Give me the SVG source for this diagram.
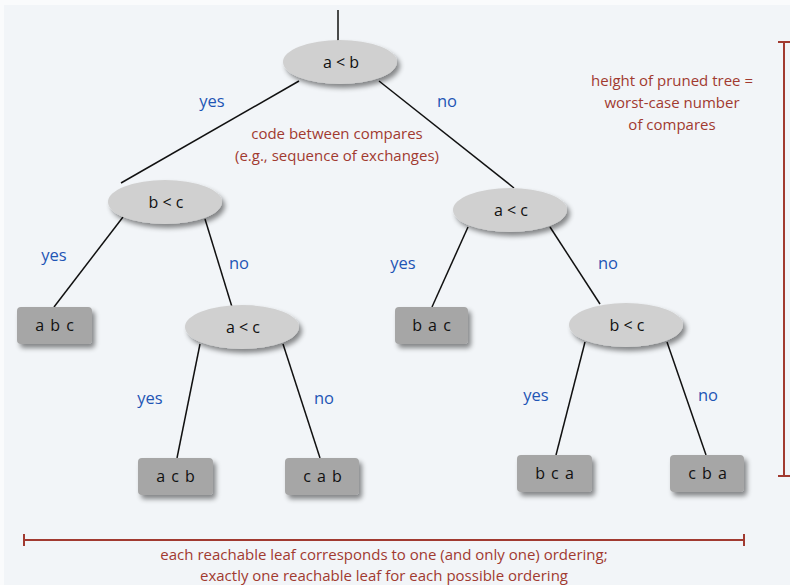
<svg xmlns="http://www.w3.org/2000/svg" width="790" height="585" viewBox="0 0 790 585">
<defs>
<filter id="sh" x="-20%" y="-30%" width="150%" height="180%">
<feDropShadow dx="3" dy="4" stdDeviation="2.5" flood-color="#000" flood-opacity="0.45"/>
</filter>
</defs>
<style>
.bg{fill:#f2f5f8}
.cmp{fill:#d0d0d0;filter:url(#sh)}
.leaf{fill:#a6a6a6;filter:url(#sh)}
.nt{font-family:"Open Sans","DejaVu Sans",sans-serif;font-size:16px;fill:#111;text-anchor:middle}
.lt{font-family:"Open Sans","DejaVu Sans",sans-serif;font-size:16px;fill:#111;text-anchor:middle;letter-spacing:1px}
.edge{stroke:#111;stroke-width:1.5;fill:none}
.yn{font-family:"Open Sans","DejaVu Sans",sans-serif;font-size:16.5px;fill:#1f55b5;text-anchor:middle}
.note{font-family:"Open Sans","DejaVu Sans",sans-serif;font-size:15px;fill:#a13a30;text-anchor:middle}
.br{stroke:#a13a30;stroke-width:2;fill:none}
</style>
<rect x="0" y="0" width="790" height="585" fill="#fafbfc"/>
<rect class="bg" x="4" y="5" width="786" height="580"/>
<g id="connectors">
<line class="edge" x1="338" y1="10" x2="338" y2="41"/>
<line class="edge" x1="299" y1="81" x2="121" y2="183"/>
<line class="edge" x1="379" y1="81" x2="514" y2="188"/>
<line class="edge" x1="123" y1="217" x2="54" y2="307"/>
<line class="edge" x1="205" y1="219" x2="232" y2="307"/>
<line class="edge" x1="200" y1="344" x2="177" y2="458"/>
<line class="edge" x1="283" y1="344" x2="320" y2="458"/>
<line class="edge" x1="468" y1="227" x2="432" y2="307"/>
<line class="edge" x1="550" y1="227" x2="600" y2="304"/>
<line class="edge" x1="585" y1="342" x2="556" y2="455"/>
<line class="edge" x1="667" y1="342" x2="706" y2="455"/>
</g>
<g id="n_ab"><ellipse class="cmp" cx="340" cy="62" rx="57" ry="22"/><text class="nt" x="341" y="68">a &lt; b</text></g>
<g id="n_bc1"><ellipse class="cmp" cx="165" cy="202" rx="57" ry="22"/><text class="nt" x="166" y="208">b &lt; c</text></g>
<g id="n_ac2"><ellipse class="cmp" cx="510" cy="210" rx="57" ry="22"/><text class="nt" x="511" y="216">a &lt; c</text></g>
<g id="n_ac1"><ellipse class="cmp" cx="242" cy="327" rx="57" ry="22"/><text class="nt" x="243" y="333">a &lt; c</text></g>
<g id="n_bc2"><ellipse class="cmp" cx="626" cy="325" rx="57" ry="22"/><text class="nt" x="627" y="331">b &lt; c</text></g>
<g id="l_abc"><rect class="leaf" x="17" y="307" width="75" height="37" rx="4"/><text class="lt" x="55" y="331">a b c</text></g>
<g id="l_bac"><rect class="leaf" x="395" y="307" width="73" height="37" rx="4"/><text class="lt" x="432" y="331">b a c</text></g>
<g id="l_acb"><rect class="leaf" x="138" y="458" width="75" height="37" rx="4"/><text class="lt" x="176" y="482">a c b</text></g>
<g id="l_cab"><rect class="leaf" x="285" y="458" width="74" height="37" rx="4"/><text class="lt" x="323" y="482">c a b</text></g>
<g id="l_bca"><rect class="leaf" x="517" y="455" width="75" height="37" rx="4"/><text class="lt" x="555" y="479">b c a</text></g>
<g id="l_cba"><rect class="leaf" x="670" y="455" width="74" height="37" rx="4"/><text class="lt" x="708" y="479">c b a</text></g>
<g id="labels">
<text class="yn" x="212" y="107">yes</text>
<text class="yn" x="447" y="107">no</text>
<text class="yn" x="54" y="261">yes</text>
<text class="yn" x="239" y="269">no</text>
<text class="yn" x="403" y="269">yes</text>
<text class="yn" x="608" y="269">no</text>
<text class="yn" x="150" y="404">yes</text>
<text class="yn" x="324" y="404">no</text>
<text class="yn" x="536" y="401">yes</text>
<text class="yn" x="708" y="401">no</text>
</g>
<g id="notes">
<text class="note" x="337" y="139">code between compares</text>
<text class="note" x="337" y="161">(e.g., sequence of exchanges)</text>
<text class="note" x="672" y="86">height of pruned tree =</text>
<text class="note" x="672" y="108">worst-case number</text>
<text class="note" x="672" y="130">of compares</text>
<text class="note" x="384" y="560">each reachable leaf corresponds to one (and only one) ordering;</text>
<text class="note" x="384" y="581">exactly one reachable leaf for each possible ordering</text>
</g>
<g id="brackets">
<path class="br" d="M784 42 V476 M778 42 H790 M778 476 H790"/>
<path class="br" d="M24 540 H744 M24 534 V546 M744 534 V546"/>
</g>
</svg>
